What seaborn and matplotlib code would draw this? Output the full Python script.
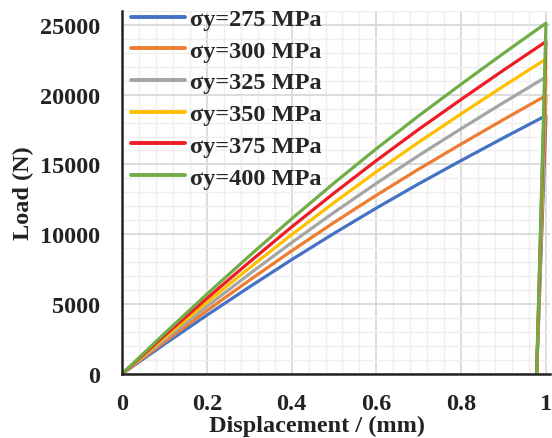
import numpy as np
import pandas as pd
import matplotlib
matplotlib.use("Agg")
import matplotlib.pyplot as plt
from matplotlib.ticker import MultipleLocator
import seaborn as sns

displacement = [0.0, 0.1, 0.2, 0.3, 0.4, 0.5, 0.6, 0.7, 0.8, 0.9, 1.0, 0.978]
labels = ["σy=275 MPa", "σy=300 MPa", "σy=325 MPa", "σy=350 MPa", "σy=375 MPa", "σy=400 MPa"]
load_275 = [0, 2128, 4200, 6216, 8177, 10064, 11877, 13616, 15281, 16909, 18500, 0]
load_300 = [0, 2292, 4524, 6696, 8809, 10842, 12795, 14668, 16462, 18216, 19930, 0]
load_325 = [0, 2445, 4826, 7143, 9397, 11565, 13649, 15647, 17561, 19432, 21260, 0]
load_350 = [0, 2593, 5119, 7577, 9967, 12267, 14477, 16597, 18626, 20611, 22550, 0]
load_375 = [0, 2737, 5403, 7997, 10520, 12947, 15280, 17517, 19659, 21753, 23800, 0]
load_400 = [0, 2889, 5702, 8440, 11103, 13665, 16127, 18488, 20749, 22960, 25120, 0]
series = [load_275, load_300, load_325, load_350, load_375, load_400]
colors = ["#4472C4", "#ED7D31", "#A5A5A5", "#FFC000", "#EE1C25", "#70AD47"]

rows = []
for lab, ys in zip(labels, series):
    for i, (x, y) in enumerate(zip(displacement, ys)):
        rows.append({"Displacement": x, "Load": y, "Series": lab, "order": i})
df = pd.DataFrame(rows)

sns.set_style("white")
plt.rcParams["font.family"] = ["Liberation Serif", "DejaVu Serif"]
plt.rcParams["font.weight"] = "bold"

fig = plt.figure(figsize=(5.52, 4.39), dpi=100)
ax = fig.add_axes([0.221, 0.146, 0.775, 0.827])

sns.lineplot(data=df, x="Displacement", y="Load", hue="Series", palette=colors,
             sort=False, estimator=None, linewidth=2.3, ax=ax)

ax.set_xlim(0, 1.009)
ax.set_ylim(0, 26000)
ax.xaxis.set_major_locator(MultipleLocator(0.2))
ax.xaxis.set_minor_locator(MultipleLocator(0.04))
ax.yaxis.set_major_locator(MultipleLocator(5000))
ax.yaxis.set_minor_locator(MultipleLocator(1000))
ax.grid(which="major", color="#d9d9d9", linewidth=1.3)
ax.grid(which="minor", color="#efefef", linewidth=1.0)
ax.set_axisbelow(True)

for s in ["top", "right"]:
    ax.spines[s].set_visible(False)
for s in ["left", "bottom"]:
    ax.spines[s].set_color("#222222")
    ax.spines[s].set_linewidth(1.8)

ax.set_xticks([0, 0.2, 0.4, 0.6, 0.8, 1.0])
ax.set_xticklabels(["0", "0.2", "0.4", "0.6", "0.8", "1"])
ax.tick_params(axis="both", which="both", length=0, labelsize=17.5, colors="#222222")
ax.tick_params(axis="x", pad=14)
ax.tick_params(axis="y", pad=16)
for t in ax.get_xticklabels() + ax.get_yticklabels():
    t.set_fontweight("bold")

ax.set_xlabel("Displacement / (mm)", fontsize=17.5, fontweight="bold", color="#222222")
ax.set_ylabel("Load (N)", fontsize=17.5, fontweight="bold", color="#222222")
ax.xaxis.set_label_coords(0.456, -0.113)
ax.yaxis.set_label_coords(-0.205, 0.5)

leg = ax.legend(loc="upper left", bbox_to_anchor=(-0.012, 1.048), frameon=False,
                prop={"size": 17.5, "weight": "bold"}, handlelength=2.2,
                handletextpad=0.2, labelspacing=0.4, borderaxespad=0.2)
for h in leg.get_lines():
    h.set_linewidth(2.8)

fig.savefig("out.png", dpi=100)
